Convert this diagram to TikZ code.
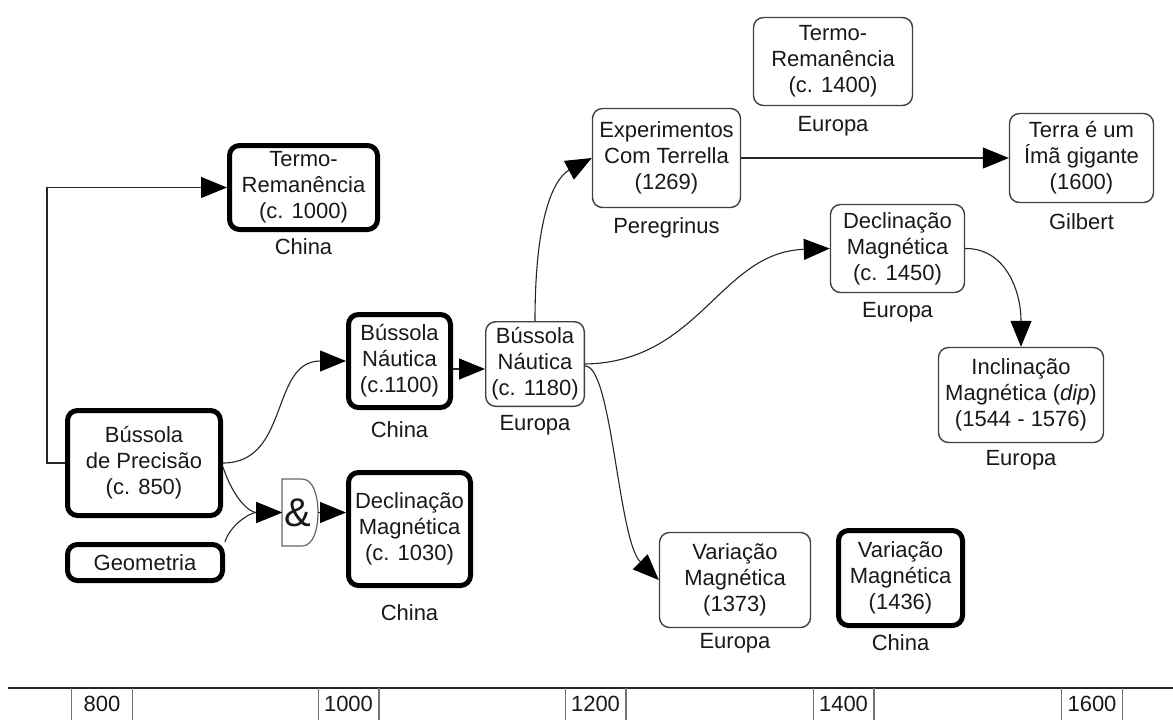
\documentclass[tikz,border=0pt]{standalone}
\usepackage{fontspec}
\setmainfont{Liberation Sans}
\usetikzlibrary{arrows.meta}
\begin{document}
\begin{tikzpicture}[x=0.5pt,y=-0.5pt,
  every node/.style={font=\fontsize{11}{13}\selectfont, text=black!90},
  thickbox/.style={draw=black, line width=2.5pt, rounded corners=5pt, align=center, inner sep=0pt},
  thinbox/.style={draw=black!75, line width=0.7pt, rounded corners=5pt, align=center, inner sep=0pt},
  lbl/.style={inner sep=0pt},
  conn/.style={draw=black!85, line width=0.55pt},
  arr/.style={conn, -{Triangle[length=13pt,width=10.5pt,color=black]}},
  yearbox/.style={inner sep=0pt, minimum width=30pt, minimum height=16pt},
  yearside/.style={draw=black!55, line width=0.6pt},
]
\useasboundingbox (0,0) rectangle (1173,720);

% nodes
\node[thickbox, minimum width=74pt, minimum height=42pt] (termo1) at (303.5,187.5) {Termo-\\Remanência\\(c. 1000)};
\node[lbl] (termo1l) at (303.5,247) {China};

\node[thickbox, minimum width=76.5pt, minimum height=52.5pt] (prec) at (144,463) {Bússola\\de Precisão\\(c. 850)};
\node[thickbox, minimum width=77.5pt, minimum height=18pt] (geom) at (145,562.5) {Geometria};

\node[minimum width=18pt, minimum height=33.5pt, inner sep=0pt, font=\fontsize{20}{20}\selectfont] (gate) at (298,512.5) {\&};
\draw[draw=black!60, line width=0.6pt] (282,479) -- (302,479) .. controls (313,479) and (318,495) .. (318,512.5) .. controls (318,530) and (313,546) .. (302,546) -- (282,546) -- cycle;
\coordinate (gatein) at (282,512.5);
\coordinate (gateout) at (318,512.5);

\node[thickbox, minimum width=61pt, minimum height=56.5pt] (dec1) at (409.5,529) {Declinação\\Magnética\\(c. 1030)};
\node[lbl] (dec1l) at (409.5,613) {China};

\node[thickbox, minimum width=51pt, minimum height=46.5pt] (bn1) at (399.5,361) {Bússola\\Náutica\\(c.1100)};
\node[lbl] (bn1l) at (399.5,430) {China};

\node[thinbox, minimum width=49.3pt, minimum height=42.3pt] (bn2) at (535,364) {Bússola\\Náutica\\(c. 1180)};
\node[lbl] (bn2l) at (535,425) {Europa};

\node[thinbox, minimum width=74pt, minimum height=49.5pt] (exp) at (666.5,158) {Experimentos\\Com Terrella\\(1269)};
\node[lbl] (expl) at (666.5,228) {Peregrinus};

\node[thinbox, minimum width=79.5pt, minimum height=44pt] (termo2) at (833,61.5) {Termo-\\Remanência\\(c. 1400)};
\node[lbl] (termo2l) at (833,126) {Europa};

\node[thinbox, minimum width=72pt, minimum height=44.5pt] (terra) at (1081.5,158) {Terra é um\\Ímã gigante\\(1600)};
\node[lbl] (terral) at (1081.5,222) {Gilbert};

\node[thinbox, minimum width=67pt, minimum height=44pt] (dec2) at (897.5,248.5) {Declinação\\Magnética\\(c. 1450)};
\node[lbl] (dec2l) at (897.5,312) {Europa};

\node[thinbox, minimum width=82.5pt, minimum height=47.5pt] (incl) at (1021,395) {Inclinação\\Magnética (\textit{dip})\\(1544 - 1576)};
\node[lbl] (incll) at (1021,460) {Europa};

\node[thinbox, minimum width=75.5pt, minimum height=47.5pt] (var1) at (735,580) {Variação\\Magnética\\(1373)};
\node[lbl] (var1l) at (735,643) {Europa};

\node[thickbox, minimum width=62pt, minimum height=47.5pt] (var2) at (900.5,578) {Variação\\Magnética\\(1436)};
\node[lbl] (var2l) at (900.5,643) {China};

% connectors
\coordinate (fy) at (0,369);
\draw[arr] (prec.west) -- (47,463) |- (termo1.west);
\draw[arr] (prec.east) .. controls (290,463) and (270,361) .. (bn1.west);
\draw[arr] ([yshift=-2pt]prec.east) .. controls (234,500) and (250,512.5) .. (gatein);
\draw[arr] (geom.north east) .. controls (230,525) and (250,512.5) .. (gatein);
\draw[arr] (gateout) -- (dec1.west |- gateout);
\draw[arr] (bn1.east |- fy) -- (bn2.west |- fy);
\draw[arr] (bn2.north) .. controls (535,200) and (560,175) .. (exp.west);
\draw[arr] (exp.east) -- (terra.west);
\draw[arr] (bn2.east) .. controls (700,362) and (720,252) .. (dec2.west);
\draw[arr] ([yshift=-1pt]bn2.east) .. controls (612,365) and (618,540) .. (var1.west);
\draw[arr] (dec2.east) .. controls (1005,248) and (1021,290) .. (incl.north);

% timeline
\coordinate (tl0) at (8,688);
\coordinate (tl1) at (1173,688);
\draw[line width=0.9pt, black!85] (tl0) -- (tl1);
\foreach \yr/\xx in {800/102, 1000/348.5, 1200/595.5, 1400/843.5, 1600/1092} {
  \node[yearbox] (y\yr) at (\xx,704) {\yr};
  \draw[yearside] (y\yr.north west) -- (y\yr.south west) (y\yr.north east) -- (y\yr.south east);
}
\end{tikzpicture}
\end{document}
